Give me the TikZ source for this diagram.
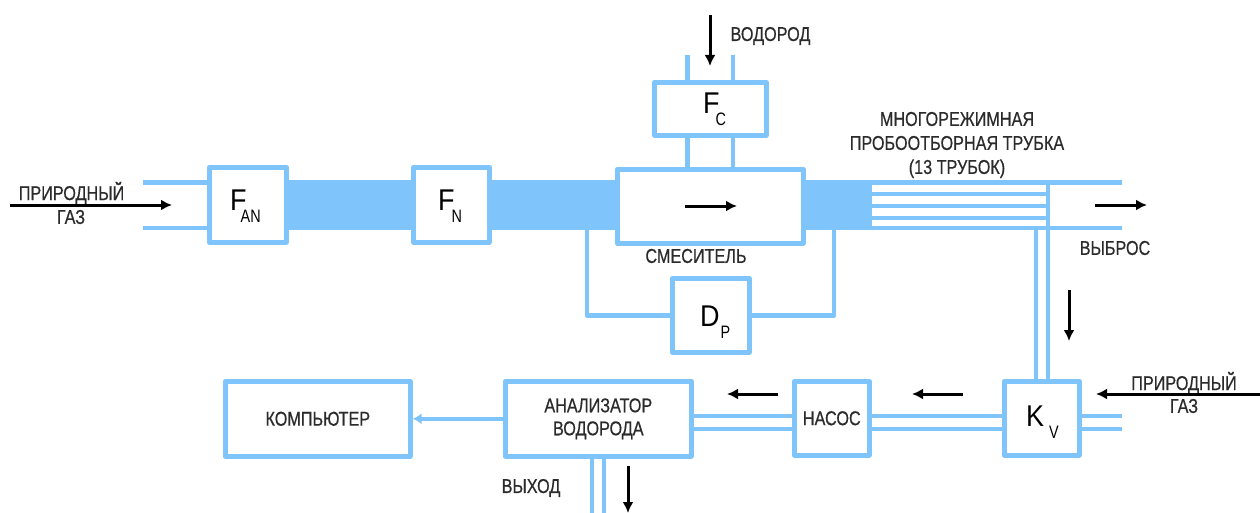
\documentclass[tikz,border=0pt]{standalone}
\usepackage{fontspec}
\setmainfont{Liberation Sans}
\newfontfamily\narrowfont[FakeStretch=0.81,FakeBold=0.5]{Liberation Sans}
\newfontfamily\symfont[FakeStretch=0.9]{Liberation Sans}
\newfontfamily\subfont[FakeStretch=0.8]{Liberation Sans}
\usetikzlibrary{arrows.meta}
\definecolor{pipe}{HTML}{7FC4FA}
\definecolor{ink}{HTML}{2B2B2B}
\tikzset{
  x=1pt,y=-1pt,
  blockbox/.style={draw=pipe,line width=4.6pt,fill=white,inner sep=0pt,anchor=north west,line join=round},
  pipeline/.style={draw=pipe,line width=4.6pt},
  band/.style={fill=pipe,draw=none},
  flow/.style={draw=black,line width=3pt,-{Latex[length=11pt,width=11pt]}},
  lab/.style={font=\narrowfont\fontsize{20}{23}\selectfont,text=ink,align=center,inner sep=0pt},
  sym/.style={font=\symfont\fontsize{30}{34}\selectfont,text=black,inner sep=0pt,anchor=base west},
}
\newcommand{\subs}[3]{#1\kern#3pt\raisebox{-12pt}{\subfont\fontsize{18}{18}\selectfont #2}}
\begin{document}
\begin{tikzpicture}
\useasboundingbox (0,0) rectangle (1260,513);
% blocks
\node[blockbox,minimum width=77pt,minimum height=75pt] (fan) at (207,165) {};
\node[blockbox,minimum width=76pt,minimum height=75pt] (fn) at (411,165) {};
\node[blockbox,minimum width=186pt,minimum height=74pt] (mix) at (615,167) {};
\node[blockbox,minimum width=112pt,minimum height=53pt] (fc) at (652,80) {};
\node[blockbox,minimum width=77pt,minimum height=74pt] (dp) at (670,276) {};
\node[blockbox,minimum width=75pt,minimum height=74pt] (kv) at (1002,379) {};
\node[blockbox,minimum width=75pt,minimum height=74pt] (pump) at (792,379) {};
\node[blockbox,minimum width=186pt,minimum height=75pt] (an) at (503,379) {};
\node[blockbox,minimum width=185pt,minimum height=75pt] (pc) at (223,379) {};
% free ends
\coordinate (inA) at (143,182.5); \coordinate (inB) at (143,228);
\coordinate (tubeS) at (871,182.5); \coordinate (tubeN) at (871,228);
\coordinate (outA) at (1122,182.5); \coordinate (outB) at (1122,228);
\coordinate (kvA) at (1122,416); \coordinate (kvB) at (1122,429);
\coordinate (exA) at (592,513); \coordinate (exB) at (604,513);
\coordinate (h2A) at (687.5,55); \coordinate (h2B) at (733,55);
\coordinate (tapL) at (587,229); \coordinate (tapR) at (834,229);
\coordinate (vA) at (1036,228); \coordinate (vB) at (1048,182.5);
% bands
\fill[band] (fan.east |- 0,180) rectangle (fn.west |- 0,230);
\fill[band] (fn.east |- 0,180) rectangle (mix.west |- 0,230);
\fill[band] (mix.east |- 0,180) rectangle (872,230);
% pipes
\draw[pipeline] (inA) -- (inA -| fan.west);
\draw[pipeline] (inB) -- (inB -| fan.west);
\draw[pipeline] (tubeS) -- (outA);
\draw[pipeline] (tubeN) -- (outB);
\foreach \yy in {194,206,218} \draw[draw=pipe,line width=3.6pt] (871,\yy) -- (1048,\yy);
\draw[draw=pipe,line width=4.2pt] (vB) -- (vB |- kv.north);
\draw[pipeline] (vA) -- (vA |- kv.north);
\draw[pipeline] (h2A) -- (h2A |- fc.north);
\draw[pipeline] (h2B) -- (h2B |- fc.north);
\draw[pipeline] (h2A |- fc.south) -- (h2A |- mix.north);
\draw[pipeline] (h2B |- fc.south) -- (h2B |- mix.north);
\draw[pipeline,line join=round] (tapL) |- (dp.west);
\draw[pipeline,line join=round] (tapR) |- (dp.east);
\draw[pipeline] (an.east |- kvA) -- (pump.west |- kvA);
\draw[pipeline] (an.east |- kvB) -- (pump.west |- kvB);
\draw[pipeline] (pump.east |- kvA) -- (kv.west |- kvA);
\draw[pipeline] (pump.east |- kvB) -- (kv.west |- kvB);
\draw[pipeline] (kv.east |- kvA) -- (kvA);
\draw[pipeline] (kv.east |- kvB) -- (kvB);
\draw[pipeline] (exA |- an.south) -- (exA);
\draw[pipeline] (exB |- an.south) -- (exB);
\draw[pipeline,-{Latex[length=9pt,width=11pt]}] (an.west) -- (pc.east);
% symbols
\node[sym] (tfan) at (230,211) {\subs{F}{AN}{-6}};
\node[sym] (tfn) at (438,211) {\subs{F}{N}{-3}};
\node[sym] (tfc) at (703,114) {\subs{F}{C}{-4}};
\node[sym] (tdp) at (700,326) {\subs{D}{P}{1}};
\node[sym] (tkv) at (1026,426) {\subs{K}{V}{5}};
% labels
\node[lab] (l1) at (71.5,193) {ПРИРОДНЫЙ};
\node[lab] (l2) at (71,217) {ГАЗ};
\node[lab] (l3) at (770.5,36) {ВОДОРОД};
\node[lab] (l4) at (957,145) {МНОГОРЕЖИМНАЯ\\[1pt]ПРОБООТБОРНАЯ ТРУБКА\\[1pt](13 ТРУБОК)};
\node[lab] (l5) at (1115,248) {ВЫБРОС};
\node[lab] (l6) at (696,256) {СМЕСИТЕЛЬ};
\node[lab] (l7) at (1184,383) {ПРИРОДНЫЙ};
\node[lab] (l8) at (1184,406) {ГАЗ};
\node[lab] (tpump) at (pump.center) {НАСОС};
\node[lab] (tan) at (an.center) {АНАЛИЗАТОР\\ВОДОРОДА};
\node[lab] (tpc) at (pc.center) {КОМПЬЮТЕР};
\node[lab] (l9) at (531,488) {ВЫХОД};
% flow arrows
\coordinate (s1) at (10,205); \coordinate (e1) at (172,205);
\coordinate (s2) at (710,15); \coordinate (e2) at (710,66);
\coordinate (s3) at (685,206); \coordinate (e3) at (737,206);
\coordinate (s4) at (1095,205); \coordinate (e4) at (1147,205);
\coordinate (s5) at (1069,290); \coordinate (e5) at (1069,341);
\coordinate (s6) at (1260,394); \coordinate (e6) at (1096,394);
\coordinate (s7) at (963,394); \coordinate (e7) at (912,394);
\coordinate (s8) at (778,394); \coordinate (e8) at (727,394);
\coordinate (s9) at (628,466); \coordinate (e9) at (628,513);
\foreach \n in {1,...,9} \draw[flow] (s\n) -- (e\n);
\end{tikzpicture}
\end{document}
